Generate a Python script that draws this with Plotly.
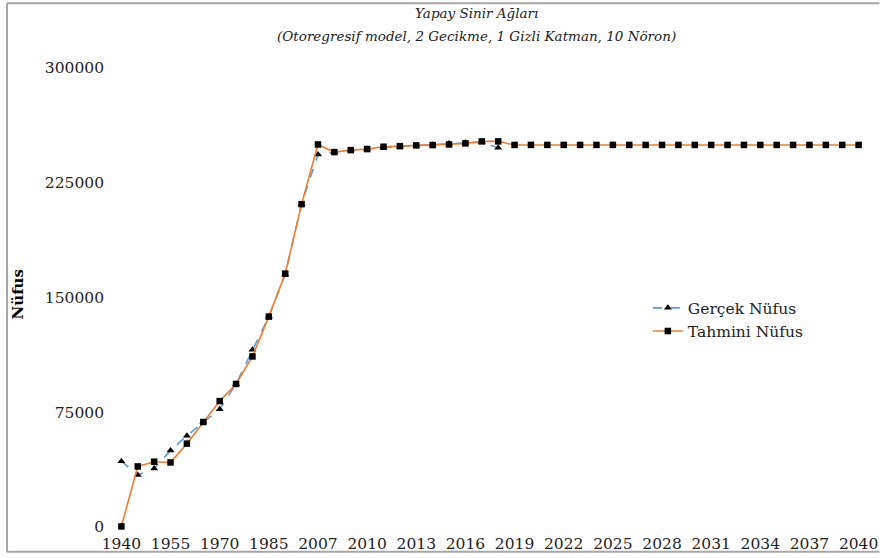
import plotly.graph_objects as go

# Census / register years (category axis)
years = ["1940", "1945", "1950", "1955", "1960", "1965", "1970", "1975",
         "1980", "1985", "1990", "2000"] + [str(y) for y in range(2007, 2041)]

# Observed population (available through 2018)
gercek = [43000, 34000, 38300, 50000, 59700, 68600, 77000, 93500,
          115800, 137500, 165000, 211000, 243500, 245000, 246300, 247000,
          248000, 248700, 249300, 249800, 250600, 251200, 251500, 247900]

# Network output (fitted values + forecast to 2040)
tahmini = [400, 39600, 42700, 42200, 54500, 68600, 82300, 93500,
           111500, 137500, 165600, 211000, 250000, 245000, 246300, 247000,
           248500, 248900, 249400, 249600, 250000, 250700, 252000, 252000,
           249700, 249700, 249700, 249700, 249700, 249700, 249700, 249700,
           249700, 249700, 249700, 249700, 249700, 249700, 249700, 249700,
           249700, 249700, 249700, 249700, 249700, 249700]

tick_years = years[::3]
y_ticks = [0, 75000, 150000, 225000, 300000]

FONT = "DejaVu Serif"

fig = go.Figure()
fig.add_trace(go.Scatter(
    x=years[:len(gercek)], y=gercek, name="Gerçek Nüfus",
    mode="lines+markers",
    line=dict(color="#5B9BD5", width=1.6, dash="dash"),
    marker=dict(symbol="triangle-up", size=7, color="black"),
))
fig.add_trace(go.Scatter(
    x=years, y=tahmini, name="Tahmini Nüfus",
    mode="lines+markers",
    line=dict(color="#ED7D31", width=1.6),
    marker=dict(symbol="square", size=6.5, color="black"),
))

fig.update_layout(
    width=883, height=558,
    margin=dict(l=105, r=5, t=60, b=23),
    paper_bgcolor="white", plot_bgcolor="white",
    font=dict(family=FONT, size=16, color="#222222"),
    showlegend=True,
    legend=dict(x=0.705, y=0.51, xanchor="left", yanchor="top",
                bgcolor="rgba(0,0,0,0)", font=dict(size=15.5, family=FONT),
                tracegroupgap=0, itemwidth=30),
    xaxis=dict(type="category", categoryorder="array", categoryarray=years,
               range=[-1, 46], tickmode="array", tickvals=tick_years,
               ticktext=tick_years, showgrid=False, zeroline=False,
               showline=False, ticks="", tickfont=dict(size=15.5, family=FONT)),
    yaxis=dict(range=[-3250, 305200], tickmode="array", tickvals=y_ticks,
               ticktext=[str(v) for v in y_ticks], showgrid=False,
               zeroline=False, showline=False, ticks="",
               tickfont=dict(size=15.5, family=FONT)),
    annotations=[
        dict(text="<i>Yapay Sinir Ağları</i>", xref="paper", yref="paper",
             x=0.483, y=(535 - 13) / 475, xanchor="center", yanchor="middle",
             showarrow=False, font=dict(size=13.5, family=FONT)),
        dict(text="<i>(Otoregresif model, 2 Gecikme, 1 Gizli Katman, 10 Nöron)</i>",
             xref="paper", yref="paper",
             x=0.483, y=(535 - 36) / 475, xanchor="center", yanchor="middle",
             showarrow=False, font=dict(size=13.5, family=FONT)),
        dict(text="<b>Nüfus</b>", xref="paper", yref="paper",
             x=(17 - 104.5) / 774, y=(535 - 296) / 475, textangle=-90,
             xanchor="center", yanchor="middle", showarrow=False,
             font=dict(size=15, family=FONT, color="black")),
    ],
)

# Chart frame (top, left, bottom edges)
px = lambda v: (v - 104.5) / 774
py = lambda v: (535 - v) / 475
frame = dict(color="#A6A6A6", width=2)
for x0, y0, x1, y1 in [(6, 3, 883, 3), (6, 3, 6, 555), (6, 555, 883, 555)]:
    fig.add_shape(type="line", xref="paper", yref="paper",
                  x0=px(x0), y0=py(y0), x1=px(x1), y1=py(y1), line=frame)

fig.write_html("out.html")
